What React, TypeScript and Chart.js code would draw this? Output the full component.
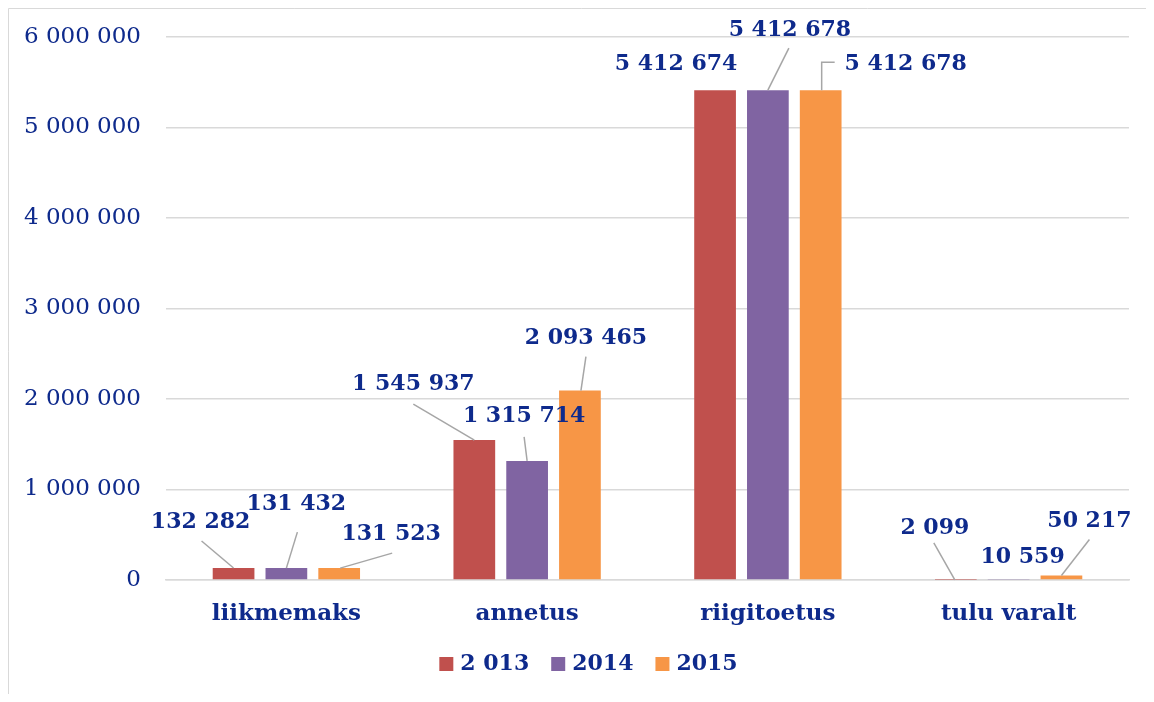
import React, { useEffect, useRef } from "react";
import { Chart, registerables } from "chart.js";

Chart.register(...registerables);

const categories = ["liikmemaks", "annetus", "riigitoetus", "tulu varalt"];
const seriesNames = ["2 013", "2014", "2015"];
const values2013 = [132282, 1545937, 5412674, 2099];
const values2014 = [131432, 1315714, 5412678, 10559];
const values2015 = [131523, 2093465, 5412678, 50217];
const yTicks = [0, 1000000, 2000000, 3000000, 4000000, 5000000, 6000000];

const COLORS = ["#C0504D", "#8064A2", "#F79646"];
const TEXT = "#0E2A8C";
const FONT = "'DejaVu Serif', 'Liberation Serif', serif";

// label placement relative to bar top: [textDx, textDy, lineStartDx, lineStartDy, lineEndDx, kind]
// kind: 0 = no line, 1 = straight, 2 = elbow
const LABEL_LAYOUT: number[][][] = [
  [[-33, -46, -32, -27, 0, 1], [-61, -56, -61, -36, 0, 1], [-39, -26, 0, 0, 0, 0], [-21, -52, -22, -37, -1, 1]],
  [[10, -64, 11, -36, 0, 1], [-3, -45, -3, -24, 0, 1], [22, -60, 21, -42, 0, 1], [14, -22, 0, 0, 0, 0]],
  [[52, -34, 53, -15, 1, 1], [6, -52, 6, -34, 1, 1], [85, -26, 14, -28, 1, 2], [28, -54, 28, -36, 0, 1]],
];

function fmt(v: number): string {
  return String(Math.round(v)).replace(/\B(?=(\d{3})+(?!\d))/g, " ");
}

const labelPlugin = {
  id: "leaderLabels",
  afterDatasetsDraw(chart: any) {
    const ctx = chart.ctx;
    ctx.save();
    chart.data.datasets.forEach((ds: any, i: number) => {
      const meta = chart.getDatasetMeta(i);
      meta.data.forEach((el: any, j: number) => {
        const L = LABEL_LAYOUT[i][j];
        const bx = el.x;
        const by = el.y;
        if (L[5] > 0) {
          ctx.strokeStyle = "#A6A6A6";
          ctx.lineWidth = 1.5;
          ctx.beginPath();
          ctx.moveTo(bx + L[2], by + L[3]);
          if (L[5] === 2) ctx.lineTo(bx + L[4], by + L[3]);
          ctx.lineTo(bx + L[4], by);
          ctx.stroke();
        }
        ctx.fillStyle = TEXT;
        ctx.font = `bold 22px ${FONT}`;
        ctx.textAlign = "center";
        ctx.textBaseline = "middle";
        ctx.fillText(fmt(ds.data[j]), bx + L[0], by + L[1]);
      });
    });
    ctx.restore();
  },
};

const legendPlugin = {
  id: "customLegend",
  afterDraw(chart: any) {
    const ctx = chart.ctx;
    ctx.save();
    ctx.font = `bold 22px ${FONT}`;
    const box = 14;
    const gap = 7;
    const spacing = 22;
    const widths = seriesNames.map((s) => ctx.measureText(s).width);
    const total = widths.reduce((a, w) => a + box + gap + w, 0) + spacing * (seriesNames.length - 1);
    let x = 580.5 - total / 2;
    const cy = 656;
    seriesNames.forEach((s, i) => {
      ctx.fillStyle = COLORS[i];
      ctx.fillRect(x, cy - box / 2, box, box);
      x += box + gap;
      ctx.fillStyle = TEXT;
      ctx.textAlign = "left";
      ctx.textBaseline = "middle";
      ctx.fillText(s, x, cy);
      x += widths[i] + spacing;
    });
    ctx.restore();
  },
};

const borderPlugin = {
  id: "frame",
  beforeDraw(chart: any) {
    const ctx = chart.ctx;
    ctx.save();
    ctx.fillStyle = "#ffffff";
    ctx.fillRect(0, 0, chart.width, chart.height);
    ctx.strokeStyle = "#D9D9D9";
    ctx.lineWidth = 1;
    ctx.beginPath();
    ctx.moveTo(0.5, chart.height);
    ctx.lineTo(0.5, 0.5);
    ctx.lineTo(chart.width, 0.5);
    ctx.stroke();
    ctx.restore();
  },
};

export default function App() {
  const ref = useRef<HTMLCanvasElement>(null);
  useEffect(() => {
    if (!ref.current) return;
    const chart = new Chart(ref.current, {
      type: "bar",
      data: {
        labels: categories,
        datasets: [values2013, values2014, values2015].map((d, i) => ({
          label: seriesNames[i],
          data: d,
          backgroundColor: COLORS[i],
          borderWidth: 0,
          barPercentage: 0.79,
          categoryPercentage: 0.658,
        })),
      },
      options: {
        animation: false,
        responsive: false,
        maintainAspectRatio: false,
        layout: { padding: { left: 0, right: 25, top: 29, bottom: 0 } },
        plugins: {
          tooltip: { enabled: false },
          legend: { display: false },
        },
        scales: {
          x: {
            grid: { display: false, drawTicks: false },
            border: { display: true, color: "#D9D9D9", width: 1.5 },
            ticks: {
              color: TEXT,
              padding: 20,
              font: { family: FONT, size: 23, weight: "bold" },
            },
            afterFit(scale: any) {
              scale.height = 114;
            },
          },
          y: {
            min: 0,
            max: 6000000,
            afterBuildTicks(scale: any) {
              scale.ticks = yTicks.map((v) => ({ value: v }));
            },
            grid: { color: "#D9D9D9", lineWidth: 1.5, drawTicks: false },
            border: { display: false },
            ticks: {
              color: TEXT,
              padding: 25,
              font: { family: FONT, size: 23 },
              callback: (v: any) => fmt(Number(v)),
            },
            afterFit(scale: any) {
              scale.width = 158;
              scale.paddingTop = 0;
              scale.paddingBottom = 0;
            },
          },
        },
      },
      plugins: [borderPlugin, labelPlugin, legendPlugin],
    } as any);
    return () => chart.destroy();
  }, []);
  return <canvas ref={ref} width={1146} height={686} style={{ display: "block" }} />;
}
